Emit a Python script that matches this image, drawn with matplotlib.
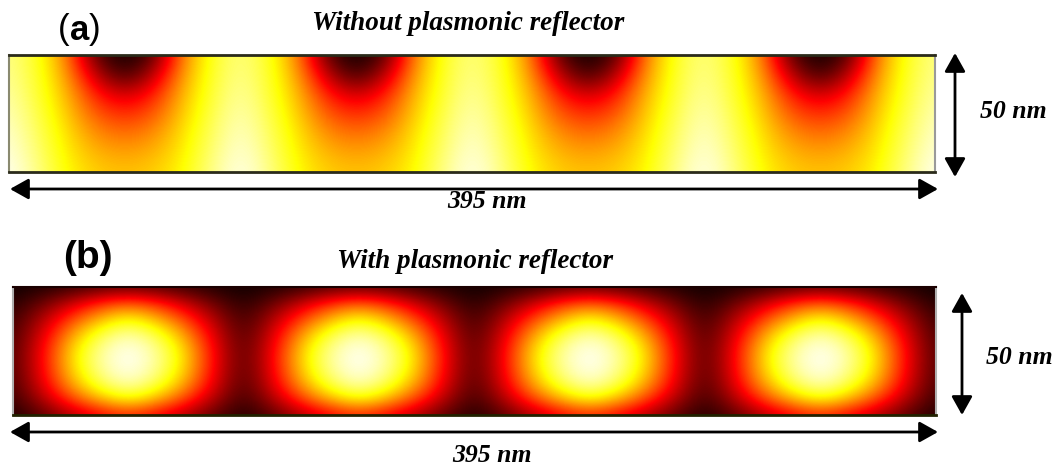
import numpy as np
import matplotlib
matplotlib.use("Agg")
import matplotlib.pyplot as plt
from matplotlib.patches import FancyArrowPatch, ArrowStyle

# ---------------- data (normalised field intensity) ----------------
n_periods = 4
# one period of panel (a): rows top->bottom, columns at phase 0, 1/8, ..., 7/8
# (phase 0 = bright column between dips, phase 1/2 = dark dip at the top surface)
a_cell = [
    [0.88, 0.78, 0.56, 0.10, 0.00, 0.10, 0.56, 0.78],
    [0.89, 0.79, 0.60, 0.26, 0.06, 0.26, 0.60, 0.79],
    [0.91, 0.80, 0.64, 0.40, 0.28, 0.40, 0.64, 0.80],
    [0.93, 0.82, 0.67, 0.49, 0.42, 0.49, 0.67, 0.82],
    [0.95, 0.84, 0.70, 0.57, 0.52, 0.57, 0.70, 0.84],
    [0.97, 0.86, 0.72, 0.63, 0.60, 0.63, 0.72, 0.86],
    [0.99, 0.88, 0.74, 0.67, 0.65, 0.67, 0.74, 0.88],
]
# one period of panel (b): phase 0 = dark column, phase 1/2 = bright spot
b_cell = [
    [0.01, 0.03, 0.06, 0.10, 0.12, 0.10, 0.06, 0.03],
    [0.04, 0.14, 0.28, 0.42, 0.50, 0.42, 0.28, 0.14],
    [0.07, 0.24, 0.46, 0.64, 0.76, 0.64, 0.46, 0.24],
    [0.09, 0.31, 0.60, 0.82, 0.93, 0.82, 0.60, 0.31],
    [0.10, 0.35, 0.68, 0.90, 1.00, 0.90, 0.68, 0.35],
    [0.10, 0.35, 0.68, 0.90, 1.00, 0.90, 0.68, 0.35],
    [0.09, 0.32, 0.61, 0.83, 0.94, 0.83, 0.61, 0.32],
    [0.07, 0.24, 0.46, 0.64, 0.76, 0.64, 0.46, 0.24],
    [0.03, 0.12, 0.24, 0.35, 0.42, 0.35, 0.24, 0.12],
]
panel_labels = ["(a)", "(b)"]
titles = ["Without plasmonic reflector", "With plasmonic reflector"]
width_label = "395 nm"
height_label = "50 nm"

# ---------------- figure ----------------
W, H = 1059, 470
fig = plt.figure(figsize=(W / 100, H / 100), dpi=100)


def fr(x0, y0, x1, y1):
    return [x0 / W, 1 - y1 / H, (x1 - x0) / W, (y1 - y0) / H]


def field(cell):
    c = np.asarray(cell, dtype=float)
    full = np.tile(c, (1, n_periods))
    return np.hstack([full, c[:, :1]])


def draw_panel(rect, cell, edge_colors):
    ax = fig.add_axes(rect)
    z = field(cell)
    ncol = z.shape[1]
    nrow = z.shape[0]
    dx = n_periods / (ncol - 1)
    dy = 1.0 / (nrow - 1)
    ax.imshow(z, cmap="hot", vmin=0, vmax=1, aspect="auto",
              interpolation="bicubic", interpolation_stage="data",
              extent=(-dx / 2, n_periods + dx / 2, 1 + dy / 2, -dy / 2))
    ax.set_xlim(0, n_periods)
    ax.set_ylim(1, 0)
    ax.set_xticks([])
    ax.set_yticks([])
    for side, (col, lw) in edge_colors.items():
        ax.spines[side].set_color(col)
        ax.spines[side].set_linewidth(lw)
    return ax


draw_panel(fr(9, 55, 935, 172), a_cell,
           {"top": ("#2a2a1a", 2.0), "bottom": ("#2a2a1a", 2.0),
            "left": ("#8a8a70", 1.5), "right": ("#9a9a9a", 1.5)})
draw_panel(fr(13, 287, 936, 415), b_cell,
           {"top": ("#1a0000", 1.5), "bottom": ("#222200", 2.0),
            "left": ("#b0b0b0", 1.5), "right": ("#b0b0b0", 1.5)})

# overlay in pixel coordinates for annotations
ov = fig.add_axes([0, 0, 1, 1])
ov.set_xlim(0, W)
ov.set_ylim(H, 0)
ov.axis("off")
ov.patch.set_alpha(0)

sans = ["Liberation Sans", "DejaVu Sans"]
serif = ["Liberation Serif", "DejaVu Serif"]

# (a) label: regular parentheses, bold letter
ov.text(70, 30, "(", fontsize=25, family=sans, ha="right", va="center")
ov.text(70, 30, "a", fontsize=25, family=sans, weight="bold", ha="left", va="center")
ov.text(70 + 19, 30, ")", fontsize=25, family=sans, ha="left", va="center")
ov.text(88, 258, panel_labels[1], fontsize=28, family=sans, weight="bold",
        ha="center", va="center")

ov.text(468, 23, titles[0], fontsize=19.5, family=serif, weight="bold",
        style="italic", ha="center", va="center")
ov.text(475, 262, titles[1], fontsize=19.5, family=serif, weight="bold",
        style="italic", ha="center", va="center")

style = ArrowStyle("<|-|>", head_length=0.75, head_width=0.42)


def arrow(p0, p1):
    ov.add_patch(FancyArrowPatch(p0, p1, arrowstyle=style, mutation_scale=15,
                                 lw=2.0, color="black", shrinkA=0, shrinkB=0))


arrow((10, 189), (938, 189))
arrow((955, 53), (955, 177))
arrow((10, 432), (938, 432))
arrow((962, 293), (962, 415))

ov.text(487, 201, width_label, fontsize=18.5, family=serif, weight="bold",
        style="italic", ha="center", va="center")
ov.text(492, 456, width_label, fontsize=18.5, family=serif, weight="bold",
        style="italic", ha="center", va="center")
ov.text(1013, 112, height_label, fontsize=18.5, family=serif, weight="bold",
        style="italic", ha="center", va="center")
ov.text(1019, 357, height_label, fontsize=18.5, family=serif, weight="bold",
        style="italic", ha="center", va="center")

fig.savefig("out.png", dpi=100)
